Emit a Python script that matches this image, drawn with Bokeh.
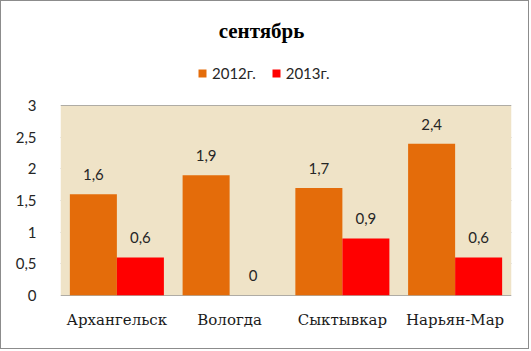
from bokeh.plotting import figure
from bokeh.models import FactorRange, Range1d, ColumnDataSource, LabelSet, Label, Legend, LegendItem, FixedTicker, BoxAnnotation
from bokeh.transform import dodge
from bokeh.core.properties import value
from bokeh.embed import file_html
from bokeh.resources import INLINE

title = "сентябрь"
cities = ["Архангельск", "Вологда", "Сыктывкар", "Нарьян-Мар"]
series_names = ["2012г.", "2013г."]
v2012 = [1.6, 1.9, 1.7, 2.4]
v2013 = [0.6, 0.0, 0.9, 0.6]
y_ticks = [0, 0.5, 1, 1.5, 2, 2.5, 3]
y_tick_labels = ["0", "0,5", "1", "1,5", "2", "2,5", "3"]
y_max = 3

colors = ["#E46C0A", "#FF0000"]
SERIF = "Liberation Serif"
CAT_SERIF = "DejaVu Serif"
SANS = "Lato"
fmt = lambda v: ("%g" % v).replace(".", ",")

# layout (canvas pixels, border of 1px included)
W, H = 531, 351
plot_left, plot_right, plot_top, plot_bottom = 60, 511, 105, 294
frame_top, frame_bottom = 1, H - 2
px_per_unit = (plot_bottom - plot_top) / y_max
y_end = (plot_bottom - frame_top) / px_per_unit
y_start = -(frame_bottom - plot_bottom) / px_per_unit
cat_px = (plot_right - plot_left) / len(cities)

def ydata(py):
    return (plot_bottom - py) / px_per_unit

def xdata(px):
    return (px - plot_left) / cat_px

src = ColumnDataSource(dict(
    city=cities,
    v2012=v2012,
    v2013=v2013,
    l2012=[fmt(v) for v in v2012],
    l2013=[fmt(v) for v in v2013],
))

p = figure(width=W - 2, height=H - 2, output_backend="svg", toolbar_location=None,
           title_location=None,
           x_range=FactorRange(factors=cities, range_padding=0),
           y_range=Range1d(y_start, y_end),
           min_border_left=plot_left - 1, min_border_right=(W - 1) - plot_right,
           min_border_top=0, min_border_bottom=0)
p.styles = {"border": "1px solid #8C8C8C"}
p.background_fill_color = "white"
p.border_fill_color = "white"
p.outline_line_color = None

p.add_layout(BoxAnnotation(bottom=0, top=y_max, fill_color="#EFE3C7", fill_alpha=1,
                           line_color=None, level="underlay"))

w = 0.417
r1 = p.vbar(x=dodge("city", -w / 2, range=p.x_range), top="v2012", bottom=0, width=w, source=src,
            fill_color=colors[0], line_color=None)
r2 = p.vbar(x=dodge("city", w / 2, range=p.x_range), top="v2013", bottom=0, width=w, source=src,
            fill_color=colors[1], line_color=None)

for col, lab, off in (("v2012", "l2012", -w / 2), ("v2013", "l2013", w / 2)):
    p.add_layout(LabelSet(x=dodge("city", off, range=p.x_range), y=col, text=lab, source=src,
                          y_offset=14, text_align="center", text_baseline="bottom",
                          text_font=value(SANS), text_font_size="15px", text_color="#262626"))

# category labels under the bars
p.add_layout(LabelSet(x="city", y=0, text="city", source=src, y_offset=-25,
                      text_align="center", text_baseline="middle",
                      text_font=value(CAT_SERIF), text_font_size="15px", text_color="#1a1a1a"))

p.xaxis.visible = False
p.xgrid.grid_line_color = None
p.ygrid.grid_line_color = "#9A9A9A"
p.ygrid.grid_line_width = 1

yax = p.left[0]
yax.ticker = FixedTicker(ticks=y_ticks)
yax.major_label_overrides = {t: l for t, l in zip(y_ticks, y_tick_labels)}
yax.axis_line_color = None
yax.major_tick_line_color = None
yax.minor_tick_line_color = None
yax.major_label_standoff = 18
yax.major_label_text_font = SANS
yax.major_label_text_font_size = "15px"
yax.major_label_text_color = "#262626"

p.add_layout(Label(x=xdata(261), y=ydata(30), text=title,
                   text_font=SERIF, text_font_style="bold", text_font_size="21px",
                   text_align="center", text_baseline="middle", text_color="black"))

legend = Legend(items=[LegendItem(label=series_names[0], renderers=[r1]),
                       LegendItem(label=series_names[1], renderers=[r2])],
                orientation="horizontal", location=(197 - plot_left, frame_bottom - 81),
                glyph_width=10, glyph_height=10, label_text_font=SANS,
                label_text_font_size="15px", label_text_color="#262626",
                label_standoff=5, spacing=15, padding=0, margin=0,
                background_fill_alpha=0, border_line_color=None)
p.add_layout(legend, "center")

open("out.html", "w").write(file_html(p, INLINE))
